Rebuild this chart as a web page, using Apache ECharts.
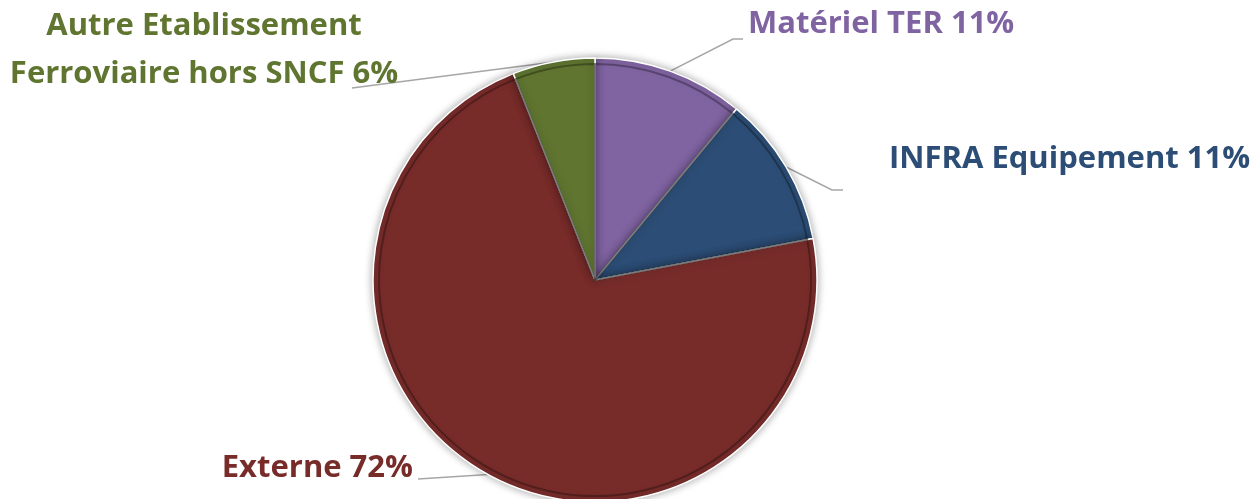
<!DOCTYPE html>
<html><head><meta charset="utf-8">
<script src="https://cdn.jsdelivr.net/npm/echarts@6/dist/echarts.min.js"></script>
<style>html,body{margin:0;padding:0;background:#fff}#c{width:1258px;height:499px}</style>
</head><body><div id="c"></div>
<script>
var categories = ['Matériel TER', 'INFRA Equipement', 'Externe', 'Autre Etablissement\nFerroviaire hors SNCF'];
var values = [11, 11, 72, 6];
var colors = ['#8064A2', '#2C4D75', '#772C2A', '#5F7530'];
var textColors = ['#8064A2', '#2C4D75', '#772C2A', '#5F7530'];
// label placement (layout only)
var labelPos = [
  {x: 748, y: 24, align: 'left', line: [[733, 39], [743, 39]]},
  {x: 889, y: 159, align: 'left', line: [[832, 190], [843, 190]]},
  {x: 413, y: 468, align: 'right', line: [[418, 479], [418, 479]]},
  {x: 204, y: 50, align: 'center', line: [[352, 88], [352, 88]]}
];
var chart = echarts.init(document.getElementById('c'));
var data = categories.map(function (c, i) {
  return {name: c, value: values[i], itemStyle: {color: colors[i]},
    label: {color: textColors[i]}};
});
chart.setOption({
  animation: false,
  series: [{
    type: 'pie',
    center: [595, 280],
    radius: [0, 222],
    startAngle: 90,
    clockwise: true,
    data: data,
    itemStyle: {borderColor: '#ffffff', borderWidth: 1.5, shadowBlur: 8, shadowColor: 'rgba(0,0,0,0.35)'},
    label: {
      show: true,
      fontFamily: 'Open Sans',
      fontWeight: 'bold',
      fontSize: 31,
      lineHeight: 48,
      formatter: function (p) { return p.name + ' ' + p.value + '%'; }
    },
    labelLine: {show: true, lineStyle: {color: '#A6A6A6', width: 1.5}},
    labelLayout: function (p) {
      var lp = labelPos[p.dataIndex];
      var res = {x: lp.x, y: lp.y, align: lp.align, verticalAlign: 'middle'};
      if (p.labelLinePoints && p.labelLinePoints[0]) {
        res.labelLinePoints = [p.labelLinePoints[0], lp.line[0], lp.line[1]];
      }
      return res;
    }
  }, {
    type: 'pie',
    center: [595, 280],
    radius: [0, 216],
    startAngle: 90,
    clockwise: true,
    silent: true,
    data: data.map(function (d) { return {name: d.name, value: d.value}; }),
    itemStyle: {color: 'rgba(0,0,0,0)', borderColor: 'rgba(0,0,0,0.3)', borderWidth: 2},
    label: {show: false},
    labelLine: {show: false}
  }]
});
</script></body></html>
